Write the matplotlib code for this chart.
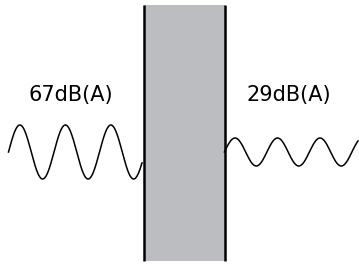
import numpy as np
import matplotlib.pyplot as plt

# 墙两侧的声级
labels = ['67dB(A)', '29dB(A)']
label_x = [71, 289]
label_base = 100.5

# 两侧声波（振幅、周期、起止位置，单位为像素）
amplitudes = [27, 14]
periods = [45.5, 42.5]
wave_start = [8.5, 224.4]
wave_end = [142, 358]
mid_y = 152

# 墙
wall_left, wall_right = 144, 224.5
wall_top, wall_bottom = 5, 261

fig = plt.figure(figsize=(3.59, 2.66), dpi=100)
ax = fig.add_axes([0, 0, 1, 1])
ax.set_xlim(0, 359)
ax.set_ylim(266, 0)
ax.axis('off')

ax.fill_between([wall_left, wall_right], wall_top, wall_bottom, color='#bcbdc0', lw=0)
ax.vlines([wall_left, wall_right], wall_top, wall_bottom, color='black', lw=1.8)

for i in range(2):
    x = np.linspace(wave_start[i], wave_end[i], 400)
    y = mid_y - amplitudes[i] * np.sin(2 * np.pi * (x - wave_start[i]) / periods[i])
    ax.plot(x, y, color='black', lw=1.1)
    ax.text(label_x[i], label_base, labels[i], ha='center', va='baseline',
            fontsize=15, family='DejaVu Sans')

fig.savefig('out.png', dpi=100)
